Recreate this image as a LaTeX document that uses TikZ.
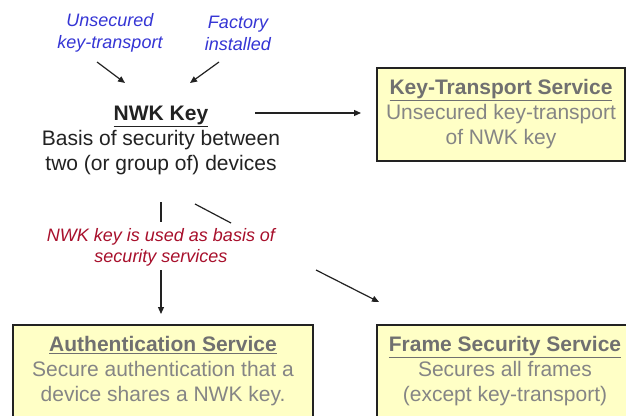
\documentclass[tikz,border=0pt]{standalone}
\usepackage{fontspec}
\setmainfont{Liberation Sans}
\usetikzlibrary{arrows.meta}
\definecolor{boxfill}{HTML}{FFFFC6}
\definecolor{boxtext}{HTML}{858585}
\definecolor{boxtitle}{HTML}{707070}
\definecolor{bluetext}{HTML}{3535D5}
\definecolor{redtext}{HTML}{A8102C}
\definecolor{linecol}{HTML}{222222}
\begin{document}
\begin{tikzpicture}[x=1pt,y=-1pt,
  svcbox/.style={draw=linecol, line width=1.2pt, fill=boxfill, text=boxtext, align=center,
    inner sep=0pt, font=\fontsize{21}{25}\selectfont},
  bluelbl/.style={text=bluetext, align=center, inner sep=0pt, font=\fontsize{18}{22}\selectfont\itshape},
  redlbl/.style={text=redtext, align=center, inner sep=0pt, font=\fontsize{18}{21}\selectfont\itshape},
  mainlbl/.style={text=linecol, align=center, inner sep=0pt, font=\fontsize{21}{25}\selectfont},
  conn/.style={draw=linecol, line width=1.2pt},
  arr/.style={conn, -{Triangle[length=7pt,width=6pt]}}]
\useasboundingbox (0,0) rectangle (626,415);
\fill[white] (0,0) rectangle (626,415);
\clip (0,0) rectangle (626,415);

% text nodes
\node[bluelbl] (ut) at (110,33) {Unsecured\\key-transport};
\node[bluelbl] (fi) at (238,33) {Factory\\installed};
\node[mainlbl] (nwk) at (161,140) {\textcolor{linecol}{\textbf{\underline{NWK Key}}}\\Basis of security between\\two (or group of) devices};
\node[redlbl] (red) at (161,247) {NWK key is used as basis of\\security services};

% boxes
\node[svcbox, minimum width=248pt, minimum height=93pt] (kt) at (501,114.5)
  {\textcolor{boxtitle}{\textbf{\underline{Key-Transport Service}}}\\Unsecured key-transport\\of NWK key};
\node[svcbox, minimum width=300pt, minimum height=92pt] (auth) at (163,371)
  {\textcolor{boxtitle}{\textbf{\underline{Authentication Service}}}\\Secure authentication that a\\device shares a NWK key.};
\node[svcbox, minimum width=256pt, minimum height=92pt] (frame) at (505,371)
  {\textcolor{boxtitle}{\textbf{\underline{Frame Security Service}}}\\Secures all frames\\(except key-transport)};

% connector end points
\coordinate (a1s) at (97,62);  \coordinate (a1e) at (125,83);
\coordinate (a2s) at (219,62); \coordinate (a2e) at (190,83);
\coordinate (kts) at (255,113); \coordinate (kte) at (361,113);
\coordinate (v1s) at (161,202); \coordinate (v1e) at (161,222);
\coordinate (v2s) at (161,270); \coordinate (v2e) at (161,314);
\coordinate (d1s) at (195,204); \coordinate (d1e) at (231,223);
\coordinate (d2s) at (316,270); \coordinate (d2e) at (379,302);

\draw[arr] (a1s) -- (a1e);
\draw[arr] (a2s) -- (a2e);
\draw[arr] (kts) -- (kte);
\draw[conn] (v1s) -- (v1e);
\draw[arr] (v2s) -- (v2e);
\draw[conn] (d1s) -- (d1e);
\draw[arr] (d2s) -- (d2e);
\end{tikzpicture}
\end{document}
